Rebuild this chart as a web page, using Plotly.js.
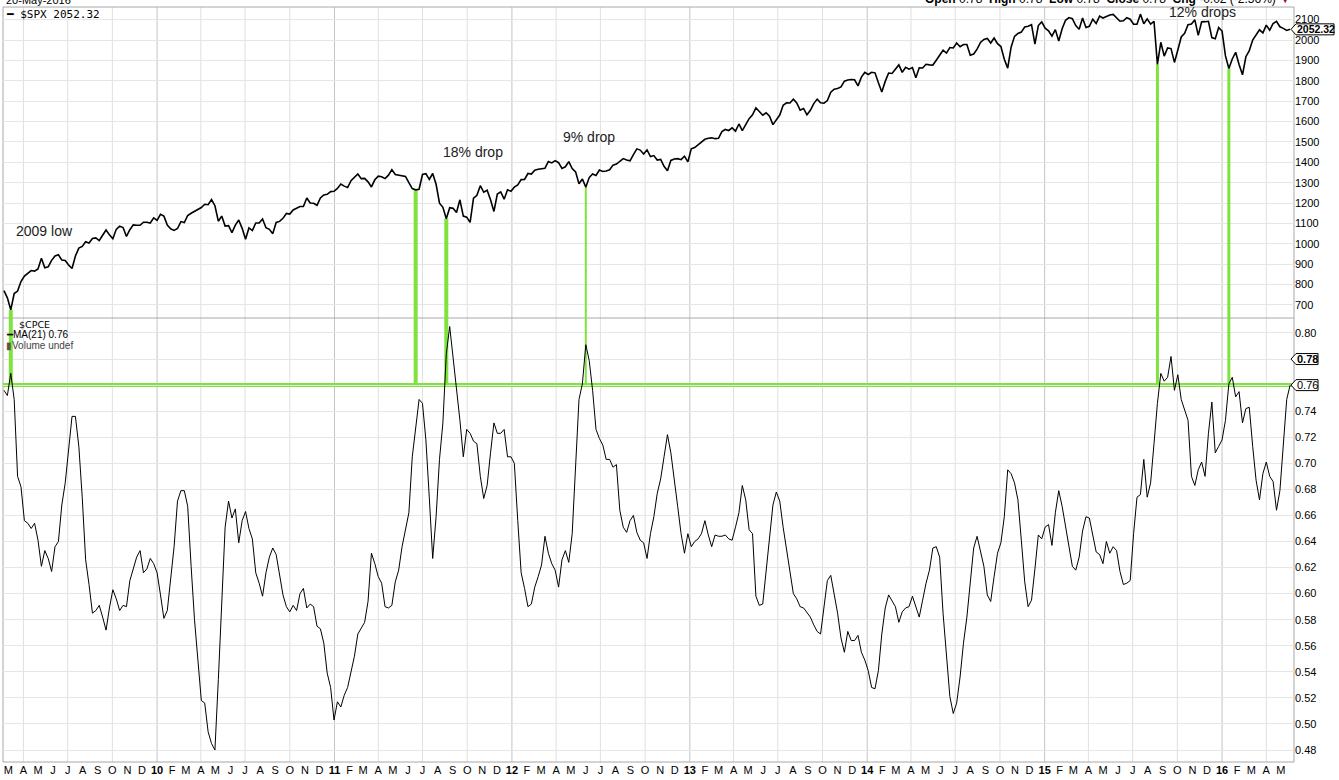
<!DOCTYPE html>
<html><head><meta charset="utf-8">
<script src="https://cdn.plot.ly/plotly-3.0.1.min.js"></script>
<style>html,body{margin:0;padding:0;background:#fff;}#chart{width:1339px;height:780px;}</style>
</head><body><div id="chart"></div>
<script>
// Weekly samples (Fridays), starting at this date
const weekStart = '2009-02-20';

const spxClose = [
770,735,676,756,768,815,842,856,869,866,
877,929,882,887,919,940,946,921,918,896,
879,940,979,987,1010,1004,1026,1029,1016,1042,
1068,1044,1025,1071,1087,1080,1036,1069,1093,1091,
1091,1106,1106,1102,1127,1115,1145,1136,1092,1074,
1066,1075,1109,1104,1139,1150,1160,1167,1178,1194,
1192,1217,1187,1111,1136,1087,1089,1055,1092,1117,
1076,1022,1078,1065,1102,1102,1122,1079,1071,1050,
1105,1110,1125,1149,1146,1166,1176,1183,1183,1225,
1200,1199,1189,1225,1240,1243,1256,1258,1272,1293,
1283,1276,1310,1329,1343,1320,1321,1304,1279,1314,
1332,1329,1320,1337,1364,1340,1338,1333,1331,1300,
1271,1265,1268,1340,1344,1316,1345,1292,1199,1179,
1123,1177,1174,1154,1216,1136,1131,1105,1224,1238,
1285,1253,1263,1216,1159,1244,1255,1219,1265,1258,
1278,1289,1315,1316,1345,1342,1361,1366,1370,1371,
1404,1397,1408,1398,1370,1378,1403,1369,1353,1295,
1318,1278,1325,1343,1335,1362,1355,1357,1363,1386,
1391,1405,1418,1411,1407,1438,1466,1460,1441,1461,
1428,1433,1411,1414,1380,1359,1409,1416,1418,1413,
1430,1402,1466,1472,1486,1503,1513,1518,1520,1516,
1518,1551,1561,1556,1569,1553,1588,1555,1582,1614,
1633,1667,1649,1631,1643,1626,1585,1606,1632,1680,
1692,1691,1710,1691,1656,1664,1633,1655,1688,1710,
1692,1690,1703,1744,1759,1762,1770,1798,1804,1806,
1805,1775,1818,1841,1831,1842,1839,1790,1745,1797,
1838,1836,1859,1878,1841,1866,1857,1865,1815,1864,
1863,1881,1878,1877,1901,1924,1950,1936,1963,1961,
1985,1967,1978,1978,1925,1931,1955,1988,2003,2008,
1985,2010,1982,1968,1906,1862,1965,2018,2032,2039,
2064,2068,2075,1980,2071,2089,2058,2045,2019,2051,
1995,2055,2097,2110,2105,2071,2053,2108,2061,2067,
2102,2081,2117,2108,2116,2123,2126,2107,2092,2094,
2110,2102,2077,2077,2127,2080,2104,2078,2092,1880,
1989,1921,1961,1958,1890,1951,2015,2033,2075,2079,
2099,2023,2089,2090,2092,2012,2006,2061,2044,1922,
1860,1907,1940,1880,1829,1918,1948,2000,2022,2050,
2035,2073,2048,2081,2092,2065,2057,2047,2052.32
];

const cpceMA21 = [
0.756,0.752,0.769,0.749,0.690,0.682,0.656,0.654,0.650,0.654,
0.641,0.621,0.633,0.627,0.617,0.636,0.640,0.668,0.685,0.708,
0.736,0.736,0.713,0.674,0.626,0.607,0.585,0.587,0.591,0.582,
0.572,0.589,0.603,0.596,0.587,0.591,0.590,0.610,0.619,0.628,
0.633,0.616,0.619,0.627,0.623,0.616,0.599,0.581,0.587,0.610,
0.636,0.671,0.679,0.679,0.667,0.621,0.580,0.549,0.518,0.516,
0.494,0.485,0.480,0.534,0.587,0.651,0.671,0.658,0.665,0.639,
0.656,0.663,0.650,0.642,0.616,0.608,0.598,0.616,0.628,0.635,
0.630,0.613,0.599,0.590,0.586,0.591,0.587,0.600,0.604,0.589,
0.592,0.590,0.575,0.573,0.562,0.539,0.528,0.503,0.517,0.513,
0.522,0.528,0.541,0.552,0.569,0.573,0.578,0.594,0.631,0.623,
0.613,0.608,0.590,0.589,0.591,0.609,0.618,0.636,0.650,0.662,
0.705,0.726,0.749,0.746,0.718,0.674,0.627,0.659,0.703,0.731,
0.784,0.805,0.782,0.756,0.733,0.705,0.726,0.723,0.717,0.715,
0.690,0.673,0.683,0.708,0.731,0.723,0.723,0.726,0.705,0.705,
0.700,0.656,0.616,0.604,0.590,0.592,0.605,0.613,0.622,0.644,
0.631,0.623,0.618,0.605,0.626,0.633,0.624,0.646,0.700,0.749,
0.761,0.791,0.779,0.756,0.726,0.719,0.714,0.703,0.703,0.697,
0.699,0.664,0.651,0.647,0.656,0.660,0.647,0.641,0.639,0.627,
0.646,0.659,0.677,0.688,0.705,0.722,0.708,0.685,0.667,0.646,
0.631,0.646,0.636,0.640,0.642,0.646,0.656,0.645,0.636,0.645,
0.644,0.644,0.645,0.642,0.641,0.651,0.662,0.683,0.672,0.649,
0.646,0.598,0.591,0.592,0.616,0.641,0.668,0.678,0.671,0.651,
0.633,0.616,0.600,0.596,0.590,0.589,0.585,0.582,0.576,0.571,
0.569,0.592,0.610,0.614,0.600,0.585,0.566,0.555,0.571,0.564,
0.564,0.568,0.555,0.549,0.541,0.528,0.527,0.541,0.569,0.589,
0.599,0.595,0.590,0.578,0.586,0.589,0.590,0.598,0.589,0.582,
0.595,0.608,0.618,0.635,0.636,0.628,0.585,0.552,0.521,0.508,
0.516,0.536,0.562,0.582,0.610,0.635,0.644,0.633,0.621,0.599,
0.594,0.613,0.631,0.639,0.659,0.695,0.692,0.685,0.672,0.641,
0.609,0.590,0.595,0.619,0.645,0.642,0.651,0.653,0.637,0.662,
0.679,0.667,0.651,0.636,0.621,0.618,0.628,0.648,0.659,0.658,
0.645,0.632,0.630,0.623,0.640,0.631,0.636,0.633,0.617,0.607,
0.608,0.610,0.646,0.674,0.676,0.703,0.674,0.685,0.715,0.746,
0.769,0.763,0.766,0.782,0.756,0.768,0.749,0.741,0.733,0.690,
0.683,0.695,0.701,0.690,0.723,0.747,0.708,0.713,0.718,0.733,
0.761,0.766,0.751,0.755,0.731,0.742,0.743,0.713,0.687,0.672,
0.692,0.701,0.690,0.686,0.664,0.679,0.715,0.749,0.760
];

const spxLast = 2052.32;
const cpceClose = 0.78;
const cpceMALast = 0.76;
const threshold = 0.76;
const signalDates = ['2009-03-06','2011-06-17','2011-08-19','2012-06-01','2015-08-21','2016-01-15'];
const noteTexts = ['2009 low','18% drop','9% drop','12% drops'];
const noteDates = ['2009-05-14','2011-10-13','2012-06-08','2015-11-21'];
const noteLevels = [1063,1450,1524,2137];
const spxTicks = [700,800,900,1000,1100,1200,1300,1400,1500,1600,1700,1800,1900,2000,2100];
const cpceTicks = [0.48,0.50,0.52,0.54,0.56,0.58,0.60,0.62,0.64,0.66,0.68,0.70,0.72,0.74,0.76,0.78,0.80];
const monthLetters = ['J','F','M','A','M','J','J','A','S','O','N','D'];

function addDays(iso, n){const d=new Date(iso+'T00:00:00Z');d.setUTCDate(d.getUTCDate()+n);return d.toISOString().slice(0,10);}
const dates = spxClose.map((_,i)=>addDays(weekStart,7*i));

// month ticks
const tickvals=[], ticktext=[], quarterLines=[];
for(let y=2009;y<=2016;y++){for(let m=0;m<12;m++){
  if(y===2009&&m<2) continue; if(y===2016&&m>4) continue;
  const v=`${y}-${String(m+1).padStart(2,'0')}-01`;
  tickvals.push(v); ticktext.push(m===0?`<b>${String(y).slice(2)}</b>`:monthLetters[m]);
  if(m%3===0) quarterLines.push({d:v,jan:m===0});
}}
// CPCE tick labels: the two tagged values are shown by their tags instead
const cpceTickText = cpceTicks.map(v=>(Math.abs(v-cpceClose)<1e-9||Math.abs(v-cpceMALast)<1e-9)?'':v.toFixed(2));

const W=1339,H=780,ML=3,MR=45,MT=7,MB=18;
const PW=W-ML-MR, PH=H-MT-MB;
const splitY=318;
const dom=(H-MB-splitY)/PH;
const px=p=>(p-ML)/PW;
const py=p=>1-(p-MT)/PH;
const topRange=[636,2162], botRange=[0.4708,0.8115];
const green='#80e23c';

const shapes=[];
quarterLines.forEach(q=>shapes.push({type:'line',xref:'x',yref:'paper',x0:q.d,x1:q.d,y0:0,y1:1,layer:'below',line:{color:q.jan?'#c4c4c4':'#e0e0e0',width:1}}));
shapes.push({type:'line',xref:'paper',yref:'paper',x0:0,x1:1,y0:dom,y1:dom,layer:'between',line:{color:'#a8a8a8',width:1}});
shapes.push({type:'rect',xref:'paper',yref:'paper',x0:0,x1:1,y0:0,y1:1,layer:'between',line:{color:'#a8a8a8',width:1}});
shapes.push({type:'line',xref:'paper',yref:'y2',x0:0,x1:1,y0:threshold,y1:threshold,layer:'between',line:{color:green,width:4}});
const sigW=[4,4,4,2,3,3];
signalDates.forEach((d,i)=>{
  const v=spxClose[dates.indexOf(d)];
  shapes.push({type:'line',xref:'x',yref:'y',x0:d,x1:d,y0:v,y1:topRange[0],layer:'between',line:{color:green,width:sigW[i]}});
  shapes.push({type:'line',xref:'x',yref:'y2',x0:d,x1:d,y0:threshold,y1:botRange[1],layer:'between',line:{color:green,width:sigW[i]}});
});
function tag(yref,val,w){
  shapes.push({type:'path',xref:'paper',xsizemode:'pixel',xanchor:1,yref:yref,ysizemode:'pixel',yanchor:val,
    path:`M -3 0 L 2 5.5 L ${w} 5.5 L ${w} -5.5 L 2 -5.5 Z`,fillcolor:'#fff',line:{color:'#000',width:1},layer:'above'});
}
tag('y',spxLast,40); tag('y2',cpceClose,24); tag('y2',cpceMALast,24);

const fA='Liberation Sans, Arial, sans-serif';
const ann=[];
noteTexts.forEach((t,i)=>ann.push({xref:'x',yref:'y',x:noteDates[i],y:noteLevels[i],text:t,showarrow:false,font:{family:fA,size:14,color:'#222'}}));
ann.push({xref:'paper',yref:'y',x:1,xanchor:'left',xshift:1,y:spxLast,text:'<b>'+spxLast.toFixed(2)+'</b>',showarrow:false,font:{family:fA,size:10.5,color:'#000'}});
ann.push({xref:'paper',yref:'y2',x:1,xanchor:'left',xshift:1,y:cpceClose,text:'<b>'+cpceClose.toFixed(2)+'</b>',showarrow:false,font:{family:fA,size:11,color:'#000'}});
ann.push({xref:'paper',yref:'y2',x:1,xanchor:'left',xshift:1,y:cpceMALast,text:cpceMALast.toFixed(2),showarrow:false,font:{family:fA,size:11,color:'#000'}});
ann.push({xref:'paper',yref:'paper',x:px(4),xanchor:'left',y:py(14),yanchor:'middle',text:'━ $SPX '+spxLast.toFixed(2),showarrow:false,font:{family:'DejaVu Sans Mono, monospace',size:11,color:'#000'}});
ann.push({xref:'paper',yref:'paper',x:px(17),xanchor:'left',y:py(324),yanchor:'middle',text:'$CPCE',showarrow:false,font:{family:'DejaVu Sans, sans-serif',size:9.5,color:'#000'}});
ann.push({xref:'paper',yref:'paper',x:px(4),xanchor:'left',y:py(334.5),yanchor:'middle',text:'━MA(21) '+cpceMALast.toFixed(2),showarrow:false,font:{family:fA,size:10,color:'#000'}});
ann.push({xref:'paper',yref:'paper',x:px(4),xanchor:'left',y:py(345),yanchor:'middle',text:'<span style="color:#555">▮</span>Volume undef',showarrow:false,font:{family:fA,size:10,color:'#444'}});
ann.push({xref:'paper',yref:'paper',x:px(4),xanchor:'left',y:1,yanchor:'bottom',yshift:-1,text:'20-May-2016',showarrow:false,font:{family:fA,size:11,color:'#000'}});
ann.push({xref:'paper',yref:'paper',x:px(1293),xanchor:'right',y:1,yanchor:'bottom',yshift:-1,
  text:'<b>Open</b> 0.78  <b>High</b> 0.78  <b>Low</b> 0.78  <b>Close</b> 0.78  <b>Chg</b> -0.02 (-2.56%) <span style="color:#a0102a">▼</span>',showarrow:false,font:{family:fA,size:12,color:'#000'}});

const traces=[
 {x:dates,y:spxClose,type:'scatter',mode:'lines',xaxis:'x',yaxis:'y',line:{color:'#000',width:1.6},hoverinfo:'skip'},
 {x:dates,y:cpceMA21,type:'scatter',mode:'lines',xaxis:'x',yaxis:'y2',line:{color:'#000',width:1},hoverinfo:'skip'}
];
const layout={
 width:W,height:H,margin:{l:ML,r:MR,t:MT,b:MB,pad:0},paper_bgcolor:'#fff',plot_bgcolor:'#fff',showlegend:false,
 xaxis:{type:'date',range:['2009-02-18','2016-05-28'],anchor:'y2',tickmode:'array',tickvals:tickvals,ticktext:ticktext,tickangle:0,
   tickfont:{family:fA,size:11,color:'#000'},showgrid:false,zeroline:false,showline:false,ticks:'',fixedrange:true},
 yaxis:{domain:[dom,1],range:topRange,side:'right',anchor:'x',tickmode:'array',tickvals:spxTicks,showgrid:true,gridcolor:'#e6e6e6',
   zeroline:false,showline:false,ticks:'',tickfont:{family:fA,size:11,color:'#000'},fixedrange:true},
 yaxis2:{domain:[0,dom],range:botRange,side:'right',anchor:'x',tickmode:'array',tickvals:cpceTicks,ticktext:cpceTickText,showgrid:true,gridcolor:'#e6e6e6',
   zeroline:false,showline:false,ticks:'',tickfont:{family:fA,size:11,color:'#000'},fixedrange:true},
 shapes:shapes,annotations:ann
};
Plotly.newPlot('chart',traces,layout,{displayModeBar:false,staticPlot:true});
</script></body></html>
